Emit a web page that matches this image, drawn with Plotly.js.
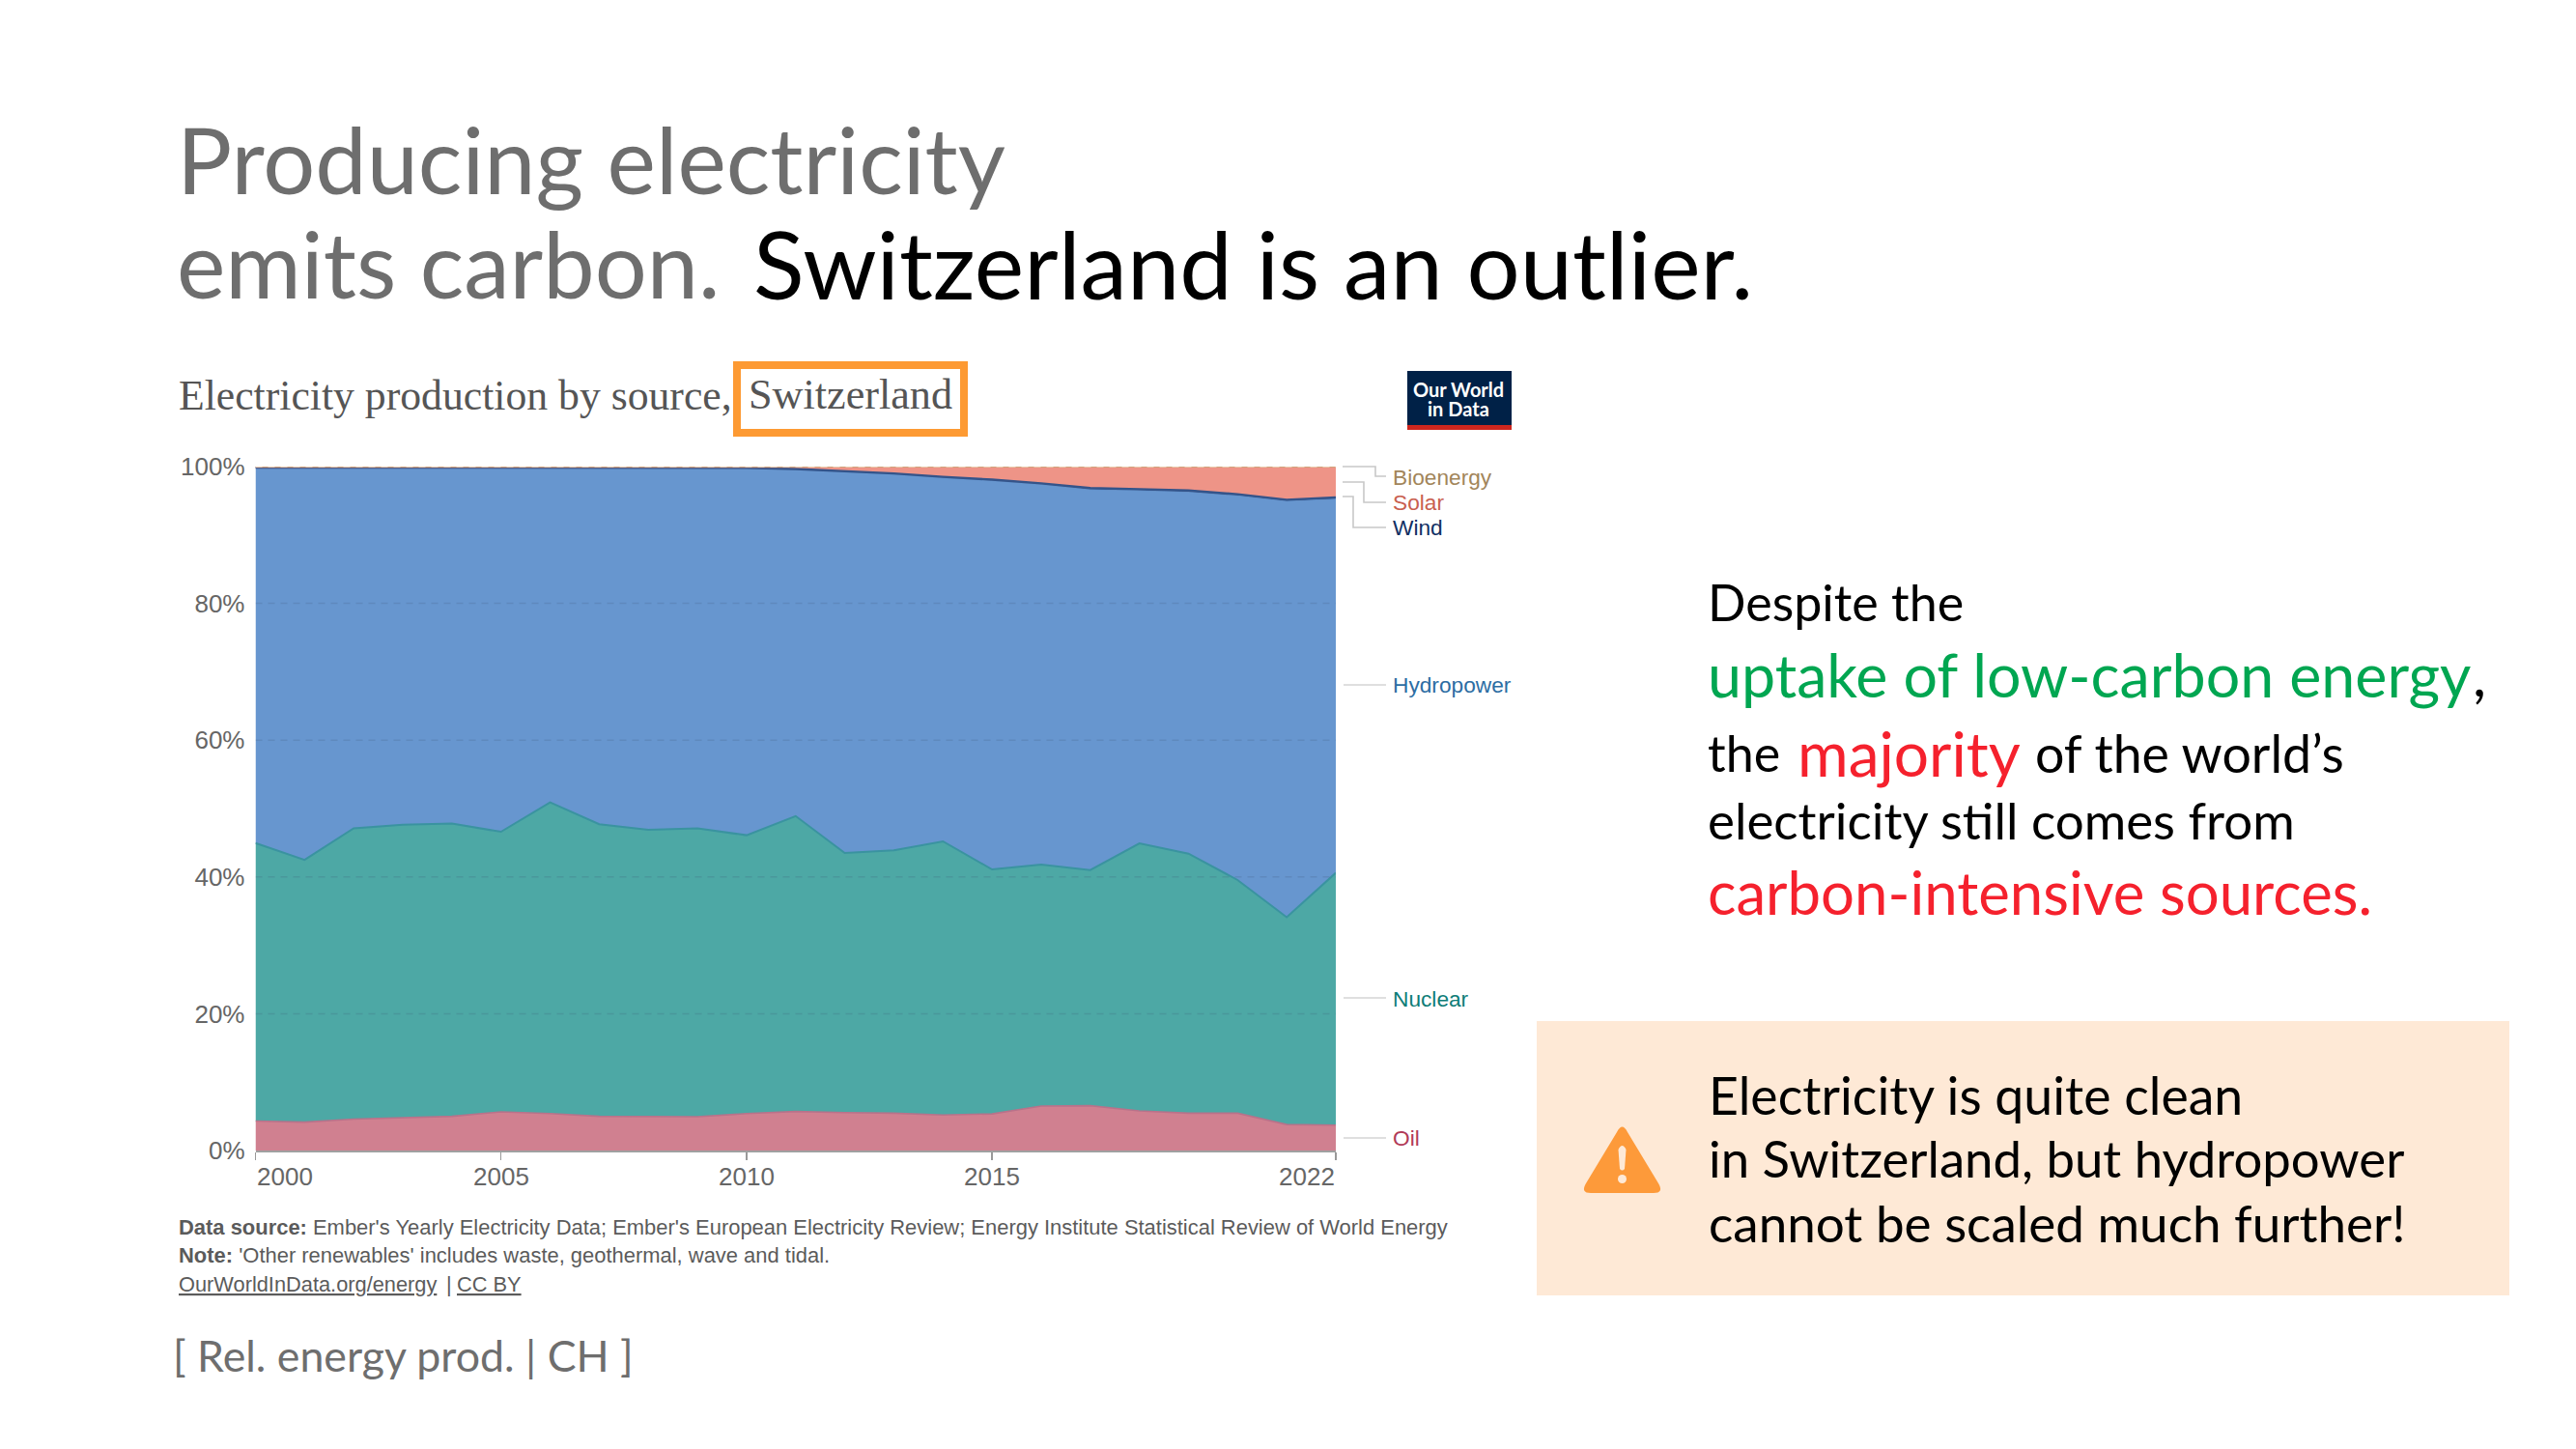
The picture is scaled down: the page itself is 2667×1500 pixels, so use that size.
<!DOCTYPE html>
<html><head><meta charset="utf-8">
<script src="https://cdn.plot.ly/plotly-3.0.1.min.js"></script>
<style>html,body{margin:0;padding:0;background:#fff}#c{width:2667px;height:1500px}</style>
</head><body><div id="c"></div>
<script>
const years=[2000,2001,2002,2003,2004,2005,2006,2007,2008,2009,2010,2011,2012,2013,2014,2015,2016,2017,2018,2019,2020,2021,2022];
const oil=[4.3,4.15,4.6,4.8,5.0,5.65,5.4,5.0,4.95,4.95,5.4,5.7,5.55,5.45,5.2,5.35,6.5,6.55,5.8,5.45,5.45,3.8,3.7];
const nuclear=[40.66,38.35,42.5,42.85,42.8,40.95,45.5,42.7,41.95,42.15,40.7,43.2,37.95,38.45,40.0,35.75,35.3,34.45,39.1,37.95,34.1,30.3,36.9];
const hydropower=[54.88,57.34,52.74,52.19,52.04,53.24,48.93,52.12,52.92,52.72,53.67,50.7,55.75,55.0,53.15,56.85,55.6,55.65,51.6,52.9,56.2,60.85,54.65];
const wind=[0.01,0.01,0.01,0.01,0.01,0.01,0.02,0.03,0.03,0.03,0.05,0.05,0.1,0.1,0.15,0.15,0.15,0.2,0.2,0.2,0.2,0.2,0.25];
const solar=[0.05,0.05,0.05,0.05,0.05,0.05,0.05,0.05,0.05,0.05,0.08,0.25,0.55,0.9,1.4,1.8,2.35,3.05,3.2,3.4,3.95,4.75,4.4];
const bioenergy=[0.1,0.1,0.1,0.1,0.1,0.1,0.1,0.1,0.1,0.1,0.1,0.1,0.1,0.1,0.1,0.1,0.1,0.1,0.1,0.1,0.1,0.1,0.1];
const xTickYears=[2000,2005,2010,2015,2022];
const xTickAnchors=['left','center','center','center','right'];
const yTicks=[0,20,40,60,80,100];
const gridLevels=[20,40,60,80,100];

const W=2667,H=1500;
const px=x=>x/W, py=y=>1-y/H;
const SANS='Lato, "Noto Sans", sans-serif', ARIAL='"Liberation Sans", Arial, sans-serif', SERIF='"Liberation Serif", serif';
const GREY='#6e6e6e', GREEN='#00a651', RED='#f5212d';

const anns=[];
function t(text,x,y,size,color,family,o){
  anns.push(Object.assign({text:text,xref:'paper',yref:'paper',x:px(x),y:py(y),xanchor:'left',yanchor:'middle',showarrow:false,borderpad:0,
    font:Object.assign({size:size,color:color,family:family||SANS},(o&&o.font)||{})},o&&o.a||{}));
}
// slide headline
t('Producing electricity',182,164,95.4,GREY,SANS,{font:{weight:400}});
t('emits carbon.',182,272,95.4,GREY,SANS,{font:{weight:400}});
t('Switzerland is an outlier.',779,272,97.3,'#000',SANS,{font:{weight:400}});
// chart title
t('Electricity production by source,',184,409,43.7,'#555',SERIF);
t('Switzerland',774,409,44.2,'#555',SERIF);
// logo text
t('Our World',1510,403,20,'#fff',SANS,{font:{weight:700},a:{xanchor:'center'}});
t('in Data',1510,423,20,'#fff',SANS,{font:{weight:700},a:{xanchor:'center'}});
// direct labels
const LS=22.7;
t('Bioenergy',1441,494,LS,'#a2855a',ARIAL);
t('Solar',1441,520,LS,'#c9604f',ARIAL);
t('Wind',1441,546,LS,'#102f63',ARIAL);
t('Hydropower',1441,709,LS,'#2c6da3',ARIAL);
t('Nuclear',1441,1034,LS,'#0e7d78',ARIAL);
t('Oil',1441,1178,LS,'#b13a57',ARIAL);
// x tick labels through the x scale
xTickYears.forEach((yr,i)=>anns.push({text:String(yr),xref:'x',yref:'paper',x:yr,y:py(1218),xanchor:xTickAnchors[i],yanchor:'middle',showarrow:false,borderpad:0,font:{size:26,color:'#666',family:ARIAL}}));
// footnotes
t('<b>Data source:</b> Ember\'s Yearly Electricity Data; Ember\'s European Electricity Review; Energy Institute Statistical Review of World Energy',184,1270,21.95,'#5b5b5b',ARIAL);
t('<b>Note:</b> \'Other renewables\' includes waste, geothermal, wave and tidal.',184,1299,21.95,'#5b5b5b',ARIAL);
t('OurWorldInData.org/energy',184,1329,21.8,'#5b5b5b',ARIAL,{font:{lineposition:'under'}});
t('|',461,1329,21.8,'#5b5b5b',ARIAL);
t('CC BY',472,1329,21.8,'#5b5b5b',ARIAL,{font:{lineposition:'under'}});
t('[ Rel. energy prod. | CH ]',178,1403,44.7,GREY,SANS,{font:{weight:400}});
// right-hand text
t('Despite the',1767,623,52,'#000');
t('uptake of low-carbon energy',1767,697,62.7,GREEN);
t(',',2559,697,62,'#000');
t('the',1767,779,52,'#000');
t('majority',1860,779,64,RED);
t('of the world\u2019s',2106,779,53.7,'#000');
t('electricity still comes from',1767,849,52.9,'#000');
t('carbon-intensive sources.',1767,923,61.7,RED);
// warning
t('Electricity is quite clean',1768,1133,53.6,'#000');
t('in Switzerland, but hydropower',1768,1198,52.7,'#000');
t('cannot be scaled much further!',1768,1265,53,'#000');

function rect(x0,y0,x1,y1,fill,line,w){return {type:'rect',xref:'paper',yref:'paper',x0:px(x0),x1:px(x1),y0:py(y0),y1:py(y1),fillcolor:fill||'rgba(0,0,0,0)',line:{color:line||'rgba(0,0,0,0)',width:w||0},layer:'above'};}
function poly(pts,color,w){const d='M'+pts.map(p=>px(p[0])+','+py(p[1])).join(' L')+'';return {type:'path',xref:'paper',yref:'paper',path:d,line:{color:color,width:w||1.6},layer:'above'};}
function curve(color){
  const P=(x,y)=>px(x)+','+py(y);
  return {type:'path',xref:'paper',yref:'paper',fillcolor:color,line:{width:0},layer:'above',
    path:'M'+P(1674,1172)+' Q'+P(1679.5,1161)+' '+P(1685,1172)+' L'+P(1717,1225)+' Q'+P(1723,1235)+' '+P(1712,1235)+' L'+P(1647,1235)+' Q'+P(1636,1235)+' '+P(1642,1225)+' Z'};
}
const shapes=[
  rect(1591,1057,2598,1341,'#fee9d6'),
  curve('#fd9a3a'),
  {type:'path',xref:'paper',yref:'paper',fillcolor:'#fee9d6',line:{width:0},layer:'above',
   path:'M'+px(1675.5)+','+py(1190)+' Q'+px(1679.5)+','+py(1182)+' '+px(1683.5)+','+py(1190)+' L'+px(1682)+','+py(1210)+' Q'+px(1679.5)+','+py(1213)+' '+px(1677)+','+py(1210)+' Z'},
  {type:'circle',xref:'paper',yref:'paper',x0:px(1675),x1:px(1684),y0:py(1216),y1:py(1225),fillcolor:'#fee9d6',line:{width:0},layer:'above'},
  rect(763,378,998,448,null,'#fd9a33',8),
  rect(1457,384,1565,445,'#002147'),
  rect(1457,440,1565,445,'#ce261e'),
  poly([[1390,483],[1424,483],[1424,493],[1435,493]],'#c8c8c8'),
  poly([[1390,499],[1412,499],[1412,520],[1435,520]],'#c8c8c8'),
  poly([[1390,514],[1401,514],[1401,546],[1435,546]],'#c8c8c8'),
  poly([[1391,709],[1435,709]],'#d4d4d4'),
  poly([[1391,1033],[1435,1033]],'#d4d4d4'),
  poly([[1391,1178],[1435,1178]],'#d4d4d4')
];
gridLevels.forEach(v=>shapes.push({type:'line',xref:'x',yref:'y',x0:years[0],x1:years[years.length-1],y0:v,y1:v,layer:'above',line:{color:v===100?'rgba(255,240,220,0.7)':'rgba(60,80,110,0.18)',width:1.5,dash:'7px,6px'}}));

const series=[
 ['Oil',oil,'#d08090','#b8728a',1.6],
 ['Nuclear',nuclear,'#4da8a5','#3a93a0',2],
 ['Hydropower',hydropower,'#6796cf','#5f8fc9',1],
 ['Wind',wind,'#2c4a7c','#34548a',2.4],
 ['Solar',solar,'#ee9487','#ee9487',1],
 ['Bioenergy',bioenergy,'#d7ab80','#c9a77a',1.6]
];
const traces=series.map(s=>({type:'scatter',mode:'lines',name:s[0],x:years,y:s[1],stackgroup:'one',fillcolor:s[2],line:{color:s[3],width:s[4],shape:'linear'},hoverinfo:'skip'}));

Plotly.newPlot('c',traces,{
  width:W,height:H,margin:{l:0,r:0,t:0,b:0,pad:0},paper_bgcolor:'#fff',plot_bgcolor:'#fff',showlegend:false,hovermode:false,
  xaxis:{domain:[264.5/W,1383/W],range:[2000,2022],tickmode:'array',tickvals:xTickYears,ticks:'outside',ticklen:8,tickwidth:1.5,tickcolor:'#999',showticklabels:false,showgrid:false,zeroline:false,showline:true,linecolor:'#a0a0a0',linewidth:2,layer:'above traces'},
  yaxis:{domain:[1-1191/H,1-483/H],range:[0,100],tickmode:'array',tickvals:yTicks,ticktext:yTicks.map(v=>v+'%'),ticks:'',ticklabelstandoff:10,tickfont:{size:26,color:'#666',family:ARIAL},showgrid:false,zeroline:false,showline:false},
  annotations:anns,shapes:shapes
},{displayModeBar:false,staticPlot:true});
</script></body></html>
